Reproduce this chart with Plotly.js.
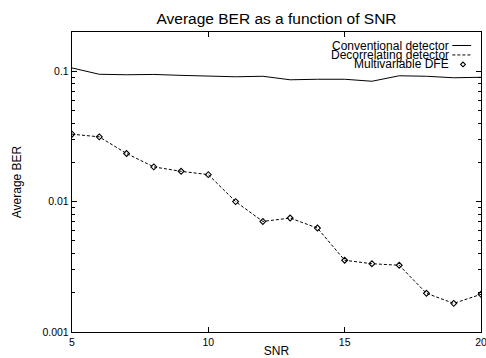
<!DOCTYPE html>
<html>
<head>
<meta charset="utf-8">
<script src="https://cdn.plot.ly/plotly-3.0.1.min.js"></script>
<style>
html,body{margin:0;padding:0;background:#fff;}
#chart{width:486px;height:358px;}
</style>
</head>
<body>
<div id="chart"></div>
<script>
// SNR values (x)
const snr = [5, 6, 7, 8, 9, 10, 11, 12, 13, 14, 15, 16, 17, 18, 19, 20];
// Conventional detector average BER
const conventional = [0.106, 0.0948, 0.094, 0.0945, 0.093, 0.0915, 0.0907, 0.0915, 0.086, 0.0868, 0.0868, 0.0838, 0.0923, 0.0915, 0.0891, 0.0899];
// Decorrelating detector average BER (dashed line)
const decorrelating = [0.0329, 0.0314, 0.0234, 0.01846, 0.01708, 0.0161, 0.0100, 0.00705, 0.00748, 0.00627, 0.00355, 0.00334, 0.00325, 0.00198, 0.001658, 0.001945];
// Multivariable DFE average BER (diamond markers)
const dfe = [0.0329, 0.0314, 0.0234, 0.01846, 0.01708, 0.0161, 0.0100, 0.00705, 0.00748, 0.00627, 0.00355, 0.00334, 0.00325, 0.00198, 0.001658, 0.001945];

const seriesNames = ["Conventional detector", "Decorrelating detector", "Multivariable DFE"];
const xTicks = [5, 10, 15, 20];
const yTicks = [0.001, 0.01, 0.1];
const yTickText = ["0.001", "0.01", "0.1"];

const minorVals = [];
[0.001, 0.01, 0.1].forEach(d => { for (let k = 2; k <= 9; k++) { const v = d * k; if (v < 0.2) minorVals.push(v); } });

const FONT = "Liberation Sans, Arial, sans-serif";

const traces = [
  {x: snr, y: conventional, mode: "lines", name: seriesNames[0],
   line: {color: "black", width: 1}, hoverinfo: "skip"},
  {x: snr, y: decorrelating, mode: "lines", name: seriesNames[1],
   line: {color: "black", width: 1, dash: "3px,2px"}, hoverinfo: "skip"},
  {x: snr, y: dfe, mode: "markers", name: seriesNames[2],
   marker: {symbol: "diamond-open", size: 4.5, color: "black", line: {color: "black", width: 1.1}}, hoverinfo: "skip"}
];

// legend layout (custom, gnuplot style: text right-aligned, key on the right)
const legX = 0.924, keyX0 = 0.930, keyX1 = 0.976;
const rowY = [0.955, 0.9235, 0.892];
const dx = 2.4 / 409, dy = 2.4 / 300, mx = 0.956;

const annotations = seriesNames.map((n, i) => ({
  text: n, xref: "paper", yref: "paper", x: legX, y: rowY[i],
  xanchor: "right", yanchor: "middle", showarrow: false, borderpad: 0,
  font: {family: FONT, size: 12, color: "black"}
}));

const shapes = [
  {type: "line", xref: "paper", yref: "paper", x0: keyX0, x1: keyX1, y0: rowY[0], y1: rowY[0],
   line: {color: "black", width: 1}},
  {type: "line", xref: "paper", yref: "paper", x0: keyX0, x1: keyX1, y0: rowY[1], y1: rowY[1],
   line: {color: "black", width: 1, dash: "3px,2px"}},
  {type: "path", xref: "paper", yref: "paper",
   path: `M ${mx - dx} ${rowY[2]} L ${mx} ${rowY[2] + dy} L ${mx + dx} ${rowY[2]} L ${mx} ${rowY[2] - dy} Z`,
   line: {color: "black", width: 1.1}}
];

const layout = {
  width: 486, height: 358,
  margin: {l: 72, r: 5, t: 32, b: 26, pad: 0},
  paper_bgcolor: "white", plot_bgcolor: "white",
  showlegend: false,
  font: {family: FONT, size: 11, color: "black"},
  title: {text: "Average BER as a function of SNR", font: {family: FONT, size: 15.5, color: "black"},
          xref: "paper", x: 0.5, xanchor: "center", y: 0.947, yanchor: "middle"},
  xaxis: {
    range: [5, 20], tickmode: "array", tickvals: xTicks, ticktext: xTicks.map(String),
    ticks: "inside", ticklen: 5, tickwidth: 1, tickcolor: "black",
    showline: true, linecolor: "black", linewidth: 1.2, mirror: "allticks",
    showgrid: false, zeroline: false, ticklabeloverflow: "allow",
    tickfont: {family: FONT, size: 10.5, color: "black"},
    title: {text: "SNR", font: {family: FONT, size: 12, color: "black"}, standoff: 8}
  },
  yaxis: {
    type: "log", range: [-3, Math.log10(0.2)],
    tickmode: "array", tickvals: yTicks, ticktext: yTickText,
    ticks: "inside", ticklen: 5, tickwidth: 1, tickcolor: "black",
    minor: {tickmode: "array", tickvals: minorVals, ticks: "inside", ticklen: 3, tickcolor: "black", tickwidth: 1, showgrid: false},
    showline: true, linecolor: "black", linewidth: 1.2, mirror: "allticks",
    showgrid: false, zeroline: false,
    tickfont: {family: FONT, size: 10.5, color: "black"},
    title: {text: "Average BER", font: {family: FONT, size: 12, color: "black"}, standoff: 18}
  },
  annotations: annotations,
  shapes: shapes
};

Plotly.newPlot("chart", traces, layout, {staticPlot: true, displayModeBar: false});
</script>
</body>
</html>
